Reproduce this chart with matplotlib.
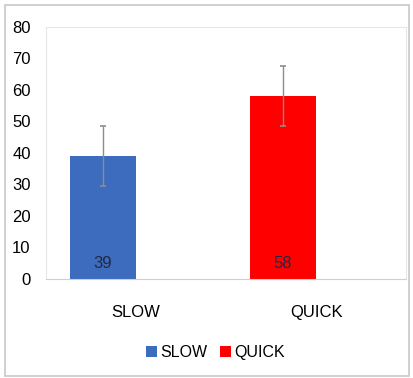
import matplotlib
matplotlib.use("Agg")
import matplotlib.pyplot as plt
from matplotlib.patches import Rectangle

# datos
categories = ["SLOW", "QUICK"]
values = [39, 58]
errors = [9.5, 9.5]
colors = ["#3d6bbd", "#ff0000"]

plt.rcParams['font.family'] = ['Liberation Sans', 'DejaVu Sans']

fig = plt.figure(figsize=(4.14, 3.78), dpi=100)
ax = fig.add_axes([0.111, 0.262, 0.870, 0.667])

# marco exterior gris
fig.patches.append(Rectangle((0.012, 0.005), 0.976, 0.982, transform=fig.transFigure,
                             fill=False, edgecolor="#c8c8c8", linewidth=1.2))

x = range(len(categories))
offset = -0.183
for i, (cat, v, e, c) in enumerate(zip(categories, values, errors, colors)):
    ax.bar(i + offset, v, width=0.367, color=c, label=cat, zorder=2)
    ax.errorbar(i + offset, v, yerr=e, ecolor="#8c8c8c", elinewidth=1,
                capsize=2, capthick=1.2, fmt="none", zorder=3)
    ax.text(i + offset, 5, str(v), ha="center", va="center", fontsize=12,
            color="#1f2a44", zorder=4)

ax.set_xlim(-0.5, 1.5)
ax.set_ylim(0, 80)
ax.set_yticks(range(0, 81, 10))
ax.set_xticks(list(x))
ax.set_xticklabels(categories)
ax.tick_params(axis="y", length=0, labelsize=12, pad=11)
ax.tick_params(axis="x", length=0, labelsize=12, pad=19)
for s in ax.spines.values():
    s.set_color("#e6e6e6")
ax.spines["bottom"].set_color("#d0d0d0")

fig.legend(loc="center", bbox_to_anchor=(0.52, 0.068), ncol=2, frameon=False,
           fontsize=11.5, handlelength=0.7, handleheight=0.7, handletextpad=0.2,
           columnspacing=0.8)

plt.savefig("out.png", format="png", dpi=100)
